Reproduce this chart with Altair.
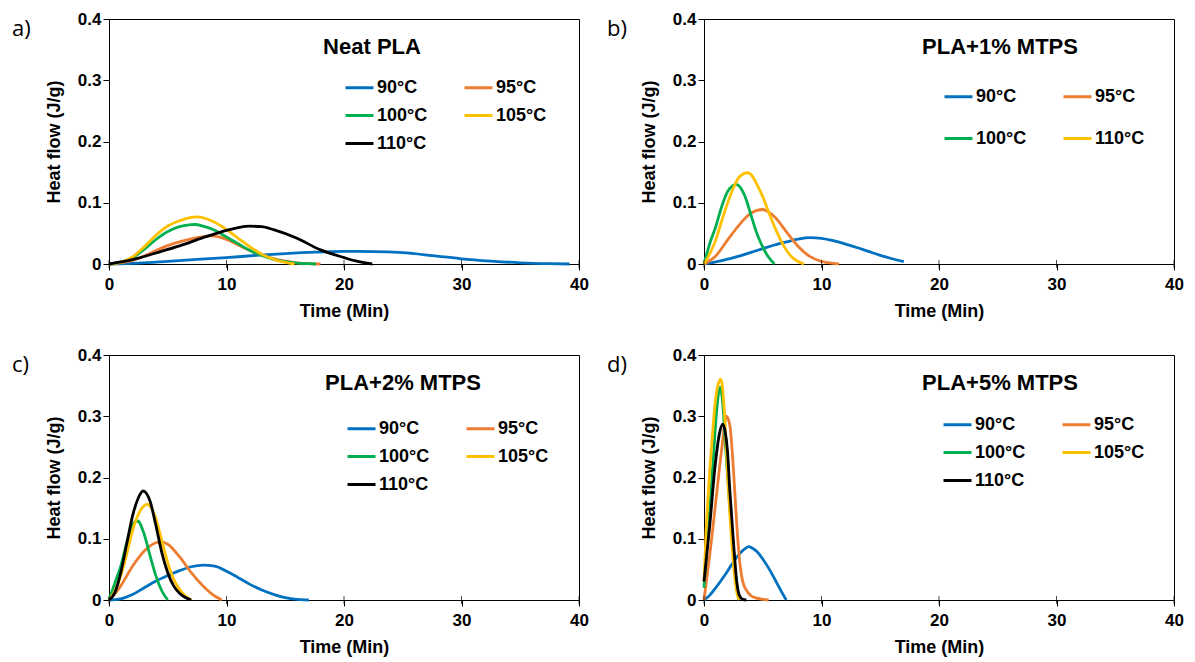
import altair as alt
import pandas as pd

TIME_TICKS = [0, 10, 20, 30, 40]
HEAT_TICKS = [0, 0.1, 0.2, 0.3, 0.4]

LABELS_5 = ["90°C", "95°C", "100°C", "105°C", "110°C"]
COLORS_5 = ["#0070C0", "#ED7D31", "#00B050", "#FFC000", "#000000"]
LABELS_B = ["90°C", "95°C", "100°C", "110°C"]
COLORS_B = ["#0070C0", "#ED7D31", "#00B050", "#FFC000"]

TITLES = ["Neat PLA", "PLA+1% MTPS", "PLA+2% MTPS", "PLA+5% MTPS"]
TAGS = ["a)", "b)", "c)", "d)"]

# ---- panel a : Neat PLA ----
A90_X = [0, 2.5, 5, 7.5, 10, 12.5, 15, 17.5, 20, 22.5, 25, 27.5, 30, 32.5, 35, 37.5, 39.2]
A90_Y = [0, 0.0015, 0.0044, 0.0075, 0.0104, 0.014, 0.017, 0.0193, 0.0205, 0.0203, 0.0185, 0.0138, 0.0085, 0.0048, 0.002, 0.0005, 0]
A95_X = [0, 1, 2, 3, 4, 5, 6, 7, 8, 8.5, 9, 10, 11, 12, 13, 14, 15, 16, 17, 18]
A95_Y = [0, 0.002, 0.006, 0.013, 0.022, 0.030, 0.036, 0.041, 0.0445, 0.046, 0.0455, 0.040, 0.031, 0.022, 0.0145, 0.0087, 0.0045, 0.002, 0.0007, 0]
A100_X = [0, 1, 2, 3, 4, 5, 6, 7, 7.3, 8, 9, 10, 11, 12, 13, 14, 15, 16, 17, 17.6]
A100_Y = [0, 0.003, 0.010, 0.024, 0.040, 0.053, 0.061, 0.0643, 0.0645, 0.062, 0.055, 0.044, 0.033, 0.022, 0.014, 0.0077, 0.0038, 0.0016, 0.0005, 0]
A105_X = [0, 1, 2, 3, 4, 5, 6, 7, 7.5, 8, 9, 10, 11, 12, 13, 14, 15, 15.8]
A105_Y = [0, 0.003, 0.0115, 0.028, 0.047, 0.062, 0.0705, 0.076, 0.077, 0.0755, 0.068, 0.056, 0.042, 0.028, 0.016, 0.0077, 0.0025, 0]
A110_X = [0, 2, 4, 6, 8, 10, 11, 12, 13, 14, 16, 18, 20, 21, 22.4]
A110_Y = [0, 0.007, 0.018, 0.0295, 0.043, 0.055, 0.0595, 0.0617, 0.061, 0.056, 0.042, 0.023, 0.0105, 0.005, 0]

# ---- panel b : PLA+1% MTPS ----
B90_X = [0, 1, 2, 3, 4, 5, 6, 7, 8, 9, 10, 11, 12, 13, 14, 15, 16, 17]
B90_Y = [0, 0.0035, 0.008, 0.013, 0.019, 0.025, 0.031, 0.036, 0.0405, 0.043, 0.042, 0.038, 0.033, 0.027, 0.0205, 0.014, 0.0086, 0.004]
B95_X = [0, 1, 2, 3, 4, 5, 6, 7, 8, 9, 10, 11, 11.5]
B95_Y = [0, 0.013, 0.039, 0.064, 0.083, 0.089, 0.077, 0.053, 0.029, 0.0124, 0.0043, 0.001, 0]
B100_X = [0, 0.5, 1, 1.5, 2, 2.76, 3, 3.5, 4, 4.5, 5, 5.5, 6]
B100_Y = [0, 0.034, 0.061, 0.0935, 0.118, 0.130, 0.127, 0.110, 0.080, 0.050, 0.0276, 0.011, 0]
B110_X = [0, 0.5, 1, 1.5, 2, 2.5, 3, 3.7, 4, 4.5, 5, 5.5, 6, 6.5, 7, 7.5, 8, 8.5]
B110_Y = [0, 0.017, 0.039, 0.070, 0.099, 0.124, 0.142, 0.149, 0.146, 0.130, 0.110, 0.085, 0.061, 0.040, 0.023, 0.011, 0.004, 0]

# ---- panel c : PLA+2% MTPS ----
C90_X = [0, 1, 2, 3, 4, 5, 6, 7, 8, 9, 10, 11, 12, 13, 14, 15, 16, 17]
C90_Y = [0, 0.002, 0.009, 0.020, 0.031, 0.040, 0.048, 0.0543, 0.057, 0.0554, 0.047, 0.0364, 0.0255, 0.0163, 0.0092, 0.0038, 0.001, 0]
C95_X = [0, 0.5, 1, 2, 3, 4, 4.5, 5, 6, 7, 8, 9, 9.6]
C95_Y = [0, 0.01, 0.023, 0.055, 0.080, 0.0935, 0.095, 0.091, 0.0707, 0.0446, 0.023, 0.0065, 0]
C100_X = [0, 0.5, 1, 1.5, 2, 2.44, 3, 3.5, 4, 4.5, 5]
C100_Y = [0, 0.028, 0.055, 0.093, 0.123, 0.129, 0.107, 0.072, 0.039, 0.0147, 0]
C105_X = [0, 0.5, 1, 1.5, 2, 2.5, 3, 3.3, 3.5, 4, 4.5, 5, 5.5, 6, 6.5, 7]
C105_Y = [0, 0.015, 0.039, 0.0745, 0.113, 0.14, 0.154, 0.156, 0.153, 0.132, 0.0965, 0.061, 0.034, 0.0174, 0.0065, 0]
C110_X = [0, 0.5, 1, 1.5, 2, 2.5, 2.9, 3.5, 4, 4.5, 5, 5.5, 6, 6.5, 7]
C110_Y = [0, 0.012, 0.0446, 0.091, 0.137, 0.167, 0.178, 0.161, 0.121, 0.077, 0.0446, 0.023, 0.011, 0.004, 0]

# ---- panel d : PLA+5% MTPS ----
D90_X = [0, 0.5, 1, 1.5, 2, 2.5, 3, 3.5, 3.8, 4, 4.5, 5, 5.5, 6, 6.5, 7]
D90_Y = [0, 0.008, 0.02, 0.033, 0.047, 0.062, 0.075, 0.084, 0.087, 0.086, 0.079, 0.067, 0.052, 0.035, 0.017, 0]
D95_X = [0, 0.5, 1, 1.5, 1.9, 2.2, 2.5, 2.8, 3, 3.3, 3.6, 4, 4.5, 5, 5.5]
D95_Y = [0, 0.075, 0.16, 0.245, 0.30, 0.285, 0.215, 0.12, 0.07, 0.03, 0.016, 0.007, 0.003, 0.001, 0]
D100_X = [0, 0.4, 0.8, 1.1, 1.36, 1.6, 1.8, 2.0, 2.2, 2.44, 2.7, 2.95]
D100_Y = [0.02, 0.125, 0.233, 0.314, 0.347, 0.32, 0.26, 0.205, 0.15, 0.097, 0.04, 0]
D105_X = [0, 0.15, 0.4, 0.7, 1.0, 1.25, 1.44, 1.65, 1.8, 2.0, 2.2, 2.4, 2.6, 2.8, 3.0]
D105_Y = [0.03, 0.1, 0.185, 0.265, 0.33, 0.355, 0.36, 0.33, 0.285, 0.205, 0.14, 0.085, 0.04, 0.012, 0]
D110_X = [0, 0.5, 0.93, 1.3, 1.59, 1.8, 2.0, 2.2, 2.5, 2.78, 3.0, 3.3, 3.6]
D110_Y = [0.03, 0.124, 0.216, 0.27, 0.287, 0.275, 0.243, 0.178, 0.097, 0.031, 0.008, 0.001, 0]

FONT = "Liberation Sans"
W, H = 470, 245


def make_panel(series, labels, colors, title, tag, title_x, leg_x, leg_y, row_pad):
    frames = []
    for (xs, ys), lab in zip(series, labels):
        frames.append(pd.DataFrame({"t": xs, "h": ys, "s": lab}))
    df = pd.concat(frames, ignore_index=True)

    lines = alt.Chart(df).mark_line(strokeWidth=2.8, interpolate="monotone").encode(
        x=alt.X("t:Q", scale=alt.Scale(domain=[0, 40], nice=False),
                axis=alt.Axis(values=TIME_TICKS, title="Time (Min)", format="d",
                              labelPadding=6, titlePadding=10)),
        y=alt.Y("h:Q", scale=alt.Scale(domain=[0, 0.4], nice=False),
                axis=alt.Axis(values=HEAT_TICKS, title="Heat flow (J/g)", format=".1~f",
                              labelPadding=2, titlePadding=14)),
        color=alt.Color("s:N", sort=labels,
                        scale=alt.Scale(domain=labels, range=colors),
                        legend=alt.Legend(orient="none", legendX=leg_x, legendY=leg_y,
                                          direction="horizontal", columns=2, title=None,
                                          symbolType="stroke",
                                          symbolSize=784, symbolStrokeWidth=3,
                                          labelFont=FONT, labelFontSize=18,
                                          labelFontWeight="bold", labelColor="black",
                                          columnPadding=30, rowPadding=row_pad,
                                          labelOffset=2, padding=0)),
        order=alt.Order("t:Q"),
    )
    inner_ticks = alt.Chart(pd.DataFrame({"t": TIME_TICKS})).mark_tick(
        orient="vertical", size=8, thickness=1, color="black"
    ).encode(x="t:Q", y=alt.datum(0))
    title_txt = alt.Chart(pd.DataFrame({"txt": [title]})).mark_text(
        font=FONT, fontSize=22, fontWeight="bold", align="center", baseline="middle", color="black"
    ).encode(x=alt.value(title_x), y=alt.value(28), text="txt:N")
    tag_txt = alt.Chart(pd.DataFrame({"txt": [tag]})).mark_text(
        font="Open Sans", fontSize=22, align="left", baseline="middle", color="black"
    ).encode(x=alt.value(-97), y=alt.value(10), text="txt:N")
    return alt.layer(lines, inner_ticks, title_txt, tag_txt).properties(width=W, height=H)


pa = make_panel([(A90_X, A90_Y), (A95_X, A95_Y), (A100_X, A100_Y), (A105_X, A105_Y), (A110_X, A110_Y)],
                LABELS_5, COLORS_5, TITLES[0], TAGS[0], 263, 235, 53, 3)
pb = make_panel([(B90_X, B90_Y), (B95_X, B95_Y), (B100_X, B100_Y), (B110_X, B110_Y)],
                LABELS_B, COLORS_B, TITLES[1], TAGS[1], 296, 239, 62, 17)
pc = make_panel([(C90_X, C90_Y), (C95_X, C95_Y), (C100_X, C100_Y), (C105_X, C105_Y), (C110_X, C110_Y)],
                LABELS_5, COLORS_5, TITLES[2], TAGS[2], 294, 237, 58, 3)
pd_ = make_panel([(D90_X, D90_Y), (D95_X, D95_Y), (D100_X, D100_Y), (D105_X, D105_Y), (D110_X, D110_Y)],
                 LABELS_5, COLORS_5, TITLES[3], TAGS[3], 296, 238, 54, 3)

chart = alt.concat(pa, pb, pc, pd_, columns=2, spacing={"row": 24, "column": 17}).resolve_scale(
    color="independent"
).resolve_legend(color="independent").properties(
    padding={"left": 3, "top": 1, "right": 3, "bottom": 0},
    background="white",
).configure_view(stroke="black", strokeWidth=1).configure_axis(
    domainColor="black", domainWidth=1, tickColor="black", tickSize=6, tickWidth=1,
    labelColor="black", titleColor="black", labelFont=FONT, titleFont=FONT,
    labelFontSize=17, titleFontSize=18, labelFontWeight="bold", titleFontWeight="bold",
    grid=False, labelFlush=False, labelOverlap=False,
)

chart.save("out.html", embed_options={"renderer": "svg", "actions": False})
